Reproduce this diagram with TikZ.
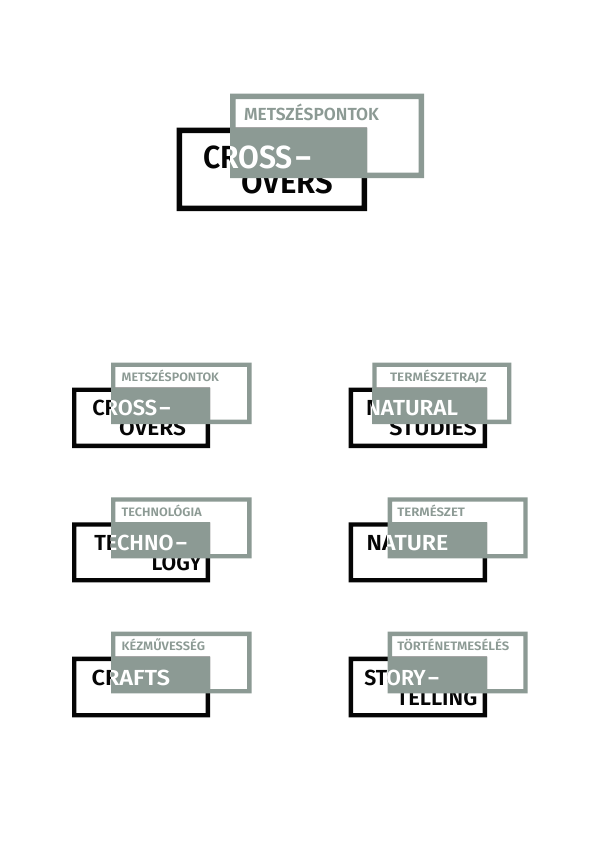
\documentclass[tikz,border=0pt]{standalone}
\usepackage{fontspec}
\usepackage{graphicx}
\newfontfamily\din{Fira Sans SemiBold}
\definecolor{sage}{HTML}{8C9A94}
\definecolor{inkk}{HTML}{050505}
\tikzset{
  txt/.style={inner sep=0pt,outer sep=0pt,anchor=base west},
  bigmain/.style={txt,font=\din\fontsize{32}{32}\selectfont},
  bigsub/.style={txt,text=sage,font=\din\fontsize{17.5}{17.5}\selectfont},
  smallmain/.style={txt,font=\din\fontsize{21.8}{22}\selectfont},
  smallsub/.style={txt,text=sage,font=\din\fontsize{12.2}{12.2}\selectfont},
}
% name, x, baseline, width, style, text
\newcommand{\lbl}[6]{\node[#5] (#1) at (#2,#3) {\resizebox{#4pt}{\height}{#6}};}
% x1,y1,x2,y2,thickness,colour
\newcommand{\frm}[6]{\fill[#6,even odd rule] (#1,#2) rectangle (#3,#4) (#1+#5,#2+#5) rectangle (#3-#5,#4-#5);}
% wide hyphen of the reference's typeface
\newcommand{\dsh}{\kern.06em\scalebox{1.5}[1]{-}}
\begin{document}
\begin{tikzpicture}[x=1pt,y=-1pt]
\useasboundingbox (0,0) rectangle (600,847);
\fill[white] (0,0) rectangle (600,847);

% ---- large lockup
\frm{176.5}{127.5}{367}{211}{5.5}{inkk}
\lbl{lgCk}{203}{168}{110}{bigmain,text=inkk}{CROSS\dsh}
\lbl{lgO}{241}{193}{92}{bigmain,text=inkk}{OVERS}
\frm{230}{93.5}{424}{178}{5.5}{sage}
\fill[sage] (230,127.5) rectangle (367,178);
\lbl{lgS}{244}{120}{135}{bigsub}{METSZÉSPONTOK}
\begin{scope}\clip (230,127.5) rectangle (367,178);
\lbl{lgCw}{203}{168}{110}{bigmain,text=white}{CROSS\dsh}
\end{scope}

% ---- row 1 left
\frm{72}{387.5}{210}{448}{4.3}{inkk}
\lbl{aCk}{92.3}{415}{79.4}{smallmain,text=inkk}{CROSS\dsh}
\lbl{aO}{119}{435}{67}{smallmain,text=inkk}{OVERS}
\frm{111}{362.5}{251.5}{424}{4.3}{sage}
\fill[sage] (111,387.5) rectangle (210,424);
\lbl{aS}{121.7}{381.7}{97.3}{smallsub}{METSZÉSPONTOK}
\begin{scope}\clip (111,387.5) rectangle (210,424);
\lbl{aCw}{92.3}{415}{79.4}{smallmain,text=white}{CROSS\dsh}
\end{scope}

% ---- row 1 right
\frm{348.7}{387.5}{487}{448}{4.3}{inkk}
\lbl{bNk}{366}{415}{92}{smallmain,text=inkk}{NATURAL}
\lbl{bS}{389.3}{435}{87.4}{smallmain,text=inkk}{STUDIES}
\frm{372.3}{362.5}{511.3}{424}{4.3}{sage}
\fill[sage] (372.3,387.5) rectangle (487,424);
\lbl{bT}{390}{381.7}{96.7}{smallsub}{TERMÉSZETRAJZ}
\begin{scope}\clip (372.3,387.5) rectangle (487,424);
\lbl{bNw}{366}{415}{92}{smallmain,text=white}{NATURAL}
\end{scope}

% ---- row 2 left
\frm{72}{522.3}{210}{582.3}{4.3}{inkk}
\lbl{cTk}{94.3}{550}{93.7}{smallmain,text=inkk}{TECHNO\dsh}
\lbl{cL}{151.7}{570}{50}{smallmain,text=inkk}{LOGY}
\frm{111}{497.3}{251.5}{558.3}{4.3}{sage}
\fill[sage] (111,522.3) rectangle (210,558.3);
\lbl{cS}{121.7}{516}{80}{smallsub}{TECHNOLÓGIA}
\begin{scope}\clip (111,522.3) rectangle (210,558.3);
\lbl{cTw}{94.3}{550}{93.7}{smallmain,text=white}{TECHNO\dsh}
\end{scope}

% ---- row 2 right
\frm{348.7}{522.3}{487}{582.3}{4.3}{inkk}
\lbl{dNk}{366.7}{550}{81.6}{smallmain,text=inkk}{NATURE}
\frm{387.7}{497.3}{527.7}{558.3}{4.3}{sage}
\fill[sage] (387.7,522.3) rectangle (487,558.3);
\lbl{dS}{397.3}{516}{67.7}{smallsub}{TERMÉSZET}
\begin{scope}\clip (387.7,522.3) rectangle (487,558.3);
\lbl{dNw}{366.7}{550}{81.6}{smallmain,text=white}{NATURE}
\end{scope}

% ---- row 3 left
\frm{72}{656.7}{210}{717.3}{4.3}{inkk}
\lbl{eCk}{91.7}{685}{78.3}{smallmain,text=inkk}{CRAFTS}
\frm{111}{631.7}{251.5}{693.3}{4.3}{sage}
\fill[sage] (111,656.7) rectangle (210,693.3);
\lbl{eS}{121.7}{650}{83.3}{smallsub}{KÉZMŰVESSÉG}
\begin{scope}\clip (111,656.7) rectangle (210,693.3);
\lbl{eCw}{91.7}{685}{78.3}{smallmain,text=white}{CRAFTS}
\end{scope}

% ---- row 3 right
\frm{348.7}{656.7}{487}{717.3}{4.3}{inkk}
\lbl{fSk}{364.3}{685}{75.7}{smallmain,text=inkk}{STORY\dsh}
\lbl{fT}{396.7}{705}{80.6}{smallmain,text=inkk}{TELLING}
\frm{387.7}{631.7}{527.7}{693.3}{4.3}{sage}
\fill[sage] (387.7,656.7) rectangle (487,693.3);
\lbl{fH}{397.3}{650}{112}{smallsub}{TÖRTÉNETMESÉLÉS}
\begin{scope}\clip (387.7,656.7) rectangle (487,693.3);
\lbl{fSw}{364.3}{685}{75.7}{smallmain,text=white}{STORY\dsh}
\end{scope}
\end{tikzpicture}
\end{document}
